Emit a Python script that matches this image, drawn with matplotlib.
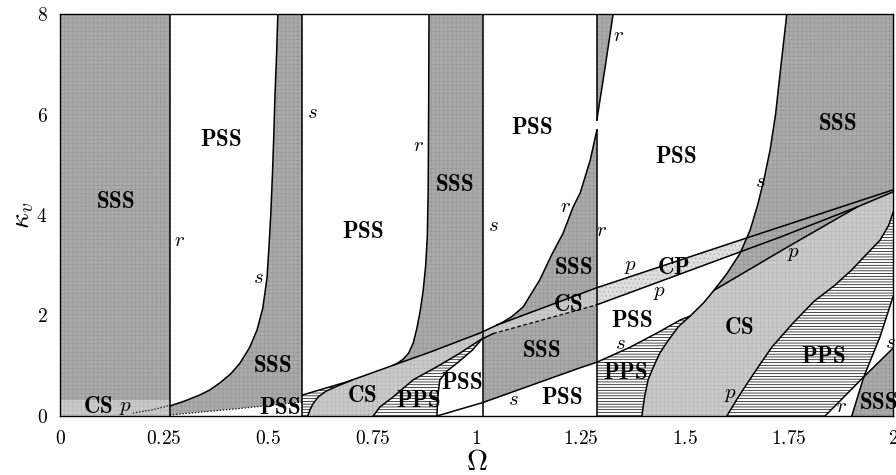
import numpy as np
import matplotlib.pyplot as plt
from matplotlib.patches import Polygon, Rectangle

plt.rcParams['mathtext.fontset'] = 'cm'
plt.rcParams['font.family'] = ['DejaVu Serif']
plt.rcParams['hatch.linewidth'] = 0.5

# boundary curves (Omega, kappa_v)
B_x = [0.264, 0.30, 0.336, 0.36, 0.384, 0.41, 0.432, 0.455, 0.473, 0.487, 0.497,
       0.502, 0.506, 0.510, 0.513, 0.516, 0.520, 0.523]
B_y = [0.20, 0.30, 0.42, 0.52, 0.66, 0.84, 1.05, 1.36, 1.71, 2.15, 2.75,
       3.4, 4.0, 4.8, 5.5, 6.35, 7.2, 8.0]
D1_x = [0.264, 0.42, 0.584]
D1_y = [0.02, 0.14, 0.28]
P0_x = [0.175, 0.22, 0.264]
P0_y = [0.06, 0.12, 0.21]
D_x = [0.886, 0.885, 0.884, 0.882, 0.878, 0.872, 0.865, 0.857, 0.848, 0.837, 0.824, 0.81, 0.80]
D_y = [8.0, 6.0, 4.5, 3.6, 3.0, 2.5, 2.1, 1.75, 1.45, 1.25, 1.13, 1.05, 1.01]
L1_x = [0.583, 0.689, 0.80, 0.888, 1.008, 1.049, 1.288, 1.633, 2.0]
L1_y = [0.42, 0.68, 1.01, 1.27, 1.65, 1.81, 2.55, 3.50, 4.5]
J_x = [0.595, 0.60, 0.608, 0.62, 0.64, 0.67, 0.70]
J_y = [0.0, 0.12, 0.25, 0.38, 0.50, 0.61, 0.71]
K_x = [0.752, 0.768, 0.80, 0.848, 0.905, 0.96, 1.008, 1.04]
K_y = [0.0, 0.18, 0.38, 0.72, 0.98, 1.25, 1.51, 1.64]
L2_x = [1.04, 1.288, 1.729, 1.914, 2.0]
L2_y = [1.64, 2.21, 3.56, 4.16, 4.46]
M_x = [0.905, 0.906, 0.908, 0.912, 0.93, 0.953, 0.99, 1.016]
M_y = [0.0, 0.2, 0.45, 0.72, 0.9, 1.05, 1.31, 1.56]
S2_x = [0.905, 1.016, 1.249, 1.289, 1.369, 1.433, 1.489, 1.513]
S2_y = [0.0, 0.27, 0.96, 1.07, 1.37, 1.65, 1.91, 1.99]
F_x = [1.289, 1.273, 1.249, 1.232, 1.208, 1.18, 1.152, 1.112, 1.085, 1.064, 1.049]
F_y = [5.69, 5.09, 4.44, 4.16, 3.64, 3.2, 2.71, 2.17, 1.98, 1.87, 1.81]
F2_x = [1.289, 1.309, 1.328]
F2_y = [5.89, 6.95, 8.0]
G_x = [1.397, 1.404, 1.412, 1.425, 1.44, 1.46, 1.485, 1.513, 1.545, 1.57,
       1.60, 1.633, 1.657, 1.675, 1.69, 1.705, 1.718, 1.73, 1.745]
G_y = [0.0, 0.4, 0.72, 0.98, 1.25, 1.5, 1.78, 1.99, 2.25, 2.5,
       2.82, 3.24, 3.7, 4.2, 4.7, 5.3, 6.0, 6.9, 8.0]
L3_x = [1.57, 1.74, 1.914]
L3_y = [2.5, 3.33, 4.16]
H_x = [1.601, 1.625, 1.65, 1.68, 1.71, 1.76, 1.81, 1.86, 1.90, 1.94, 1.969, 1.99, 2.0]
H_y = [0.0, 0.33, 0.65, 1.02, 1.38, 1.85, 2.28, 2.6, 2.9, 3.25, 3.5, 3.8, 4.05]
R_x = [1.837, 1.93, 2.0]
R_y = [0.0, 0.78, 1.35]
S3_x = [1.901, 1.93, 1.969, 2.0]
S3_y = [0.0, 0.78, 1.58, 2.37]
V_r1, V_s1, V_s2, V_r2 = 0.264, 0.581, 1.016, 1.289

labels = [
    ('SSS', 0.134, 4.26), ('PSS', 0.387, 5.49), ('SSS', 0.511, 1.0),
    ('CS', 0.09, 0.18), ('PSS', 0.528, 0.16), ('PSS', 0.727, 3.66),
    ('SSS', 0.948, 4.6), ('PSS', 1.134, 5.73), ('SSS', 1.232, 2.95),
    ('CS', 1.22, 2.21), ('SSS', 1.155, 1.29), ('PSS', 1.205, 0.36),
    ('PSS', 0.965, 0.66), ('PPS', 0.86, 0.30), ('CS', 0.725, 0.40),
    ('PSS', 1.479, 5.16), ('SSS', 1.866, 5.81), ('CP', 1.472, 2.95),
    ('PSS', 1.373, 1.89), ('PPS', 1.357, 0.86), ('CS', 1.63, 1.75),
    ('PPS', 1.832, 1.17), ('SSS', 1.965, 0.26),
]
marks = [
    ('s', 0.476, 2.75), ('r', 0.288, 3.5), ('p', 0.158, 0.16),
    ('s', 0.605, 6.03), ('r', 0.860, 5.39), ('s', 1.040, 3.80),
    ('r', 1.213, 4.16), ('s', 1.088, 0.32), ('r', 1.34, 7.58),
    ('s', 1.681, 4.66), ('r', 1.30, 3.70), ('p', 1.369, 2.97),
    ('p', 1.44, 2.45), ('s', 1.345, 1.45), ('p', 1.76, 3.24),
    ('p', 1.609, 0.42), ('s', 1.993, 1.47), ('r', 1.877, 0.18),
]

SSS_C, CS_C, CP_C = '#ababab', '#cbcbcb', '#dedede'

fig = plt.figure(figsize=(8.96, 4.75), dpi=100)
ax = fig.add_axes([60/896, 1-416/475, 833/896, 402/475])
ax.set_xlim(0, 2)
ax.set_ylim(0, 8)


def pts(xs, ys):
    return list(zip(xs, ys))


def region(verts, face, hatch=None, hc='#989898', z=1, clip=None):
    p = Polygon(verts, closed=True, facecolor=face, edgecolor=hc,
                hatch=hatch, lw=0, zorder=z)
    ax.add_patch(p)
    if clip is not None:
        p.set_clip_path(clip)
    return p


# SSS regions
region([(0, 0), (V_r1, 0), (V_r1, 8), (0, 8)], SSS_C, '++++')
region(pts(B_x, B_y) + [(V_s1, 8), (V_s1, 0.28)] + pts(D1_x, D1_y)[::-1], SSS_C, '++++')
region(pts(D_x, D_y) + [p for p in pts(L1_x, L1_y) if 0.80 < p[0] < V_s2] + [(V_s2, 1.68), (V_s2, 8)],
       SSS_C, '++++')
region([(V_s2, 0.27)] + [p for p in pts(S2_x, S2_y) if V_s2 < p[0] <= V_r2] + pts(F_x, F_y)
       + [(V_s2, 1.68)], SSS_C, '++++')
region(pts(F2_x, F2_y) + [(V_r2, 8)], SSS_C, '++++')
region(pts(G_x, G_y) + [(2, 8), (2, 0)], SSS_C, '++++')

# CS band along the bottom-left
region([(0, 0), (V_r1, 0), (V_r1, 0.32), (0, 0.32)], CS_C, '++++', hc='#b8b8b8', z=2)

# CS / CP band
band = pts(J_x, J_y)[:1] + pts(K_x, K_y) + pts(L2_x, L2_y)[1:] \
    + [p for p in pts(L1_x, L1_y) if p[0] >= 0.80][::-1] + pts(J_x, J_y)[::-1]
clip_cs = Rectangle((0, 0), V_r2, 8, transform=ax.transData)
left_g = Polygon([(V_r2, 0)] + pts(G_x, G_y) + [(V_r2, 8)], transform=ax.transData)
region(band, CS_C, '++++', hc='#b8b8b8', z=2, clip=clip_cs)
region(band, CP_C, '....', hc='#b0b0b0', z=2, clip=left_g)

# big CS region
g_low = [p for p in pts(G_x, G_y) if p[1] <= 2.5]
cs_big = g_low + pts(L3_x, L3_y)[1:] + [(2.0, 4.46), (2.0, 4.05)] + pts(H_x, H_y)[:-1][::-1]
region(cs_big, CS_C, '++++', hc='#b8b8b8', z=3)

# PPS regions (horizontal lines)
region(pts(H_x, H_y) + pts(S3_x, S3_y)[1:][::-1] + [(R_x[0], 0)], 'white', '------', hc='black', z=4)
region([(V_r2, 0)] + [p for p in pts(S2_x, S2_y) if p[0] >= V_r2]
       + [p for p in pts(G_x, G_y) if p[1] < 1.99][::-1], 'white', '------', hc='black', z=4)
region(pts(K_x, K_y)[:-1] + pts(M_x, M_y)[::-1], 'white', '------', hc='black', z=4)
region([(V_s1, 0), (V_s1, 0.42), (0.689, 0.68)] + pts(J_x, J_y)[::-1], 'white', '------', hc='black', z=4)

# white PSS pieces at the lower right
region([(R_x[0], 0), (R_x[1], R_y[1]), (S3_x[0], 0)], 'white', z=5)
region([(S3_x[1], S3_y[1]), (S3_x[2], S3_y[2]), (2.0, 2.37), (2.0, 1.35)], 'white', z=5)

# boundary lines
kw = dict(color='black', lw=1.1, zorder=6)
for xs, ys in [(B_x, B_y), (D_x, D_y), (F_x, F_y), (F2_x, F2_y), (G_x, G_y),
               (L1_x, L1_y), (J_x, J_y), (K_x, K_y), (M_x, M_y), (S2_x, S2_y),
               (L3_x, L3_y), (H_x, H_y), (R_x, R_y), (S3_x, S3_y)]:
    ax.plot(xs, ys, **kw)
ax.plot(L2_x[:2], L2_y[:2], color='black', lw=0.9, ls=(0, (3, 2)), zorder=6)
ax.plot(L2_x[1:], L2_y[1:], **kw)
ax.plot(D1_x, D1_y, color='black', lw=0.9, ls=(0, (1, 1.5)), zorder=6)
ax.plot(P0_x, P0_y, color='black', lw=0.9, ls=(0, (1, 1.5)), zorder=6)
for v in [V_r1, V_s1, V_s2]:
    ax.plot([v, v], [0, 8], **kw)
ax.plot([V_r2, V_r2], [0, 5.69], **kw)
ax.plot([V_r2, V_r2], [5.89, 8], **kw)

for t, x, y in labels:
    ax.text(x, y, r'$\mathbf{%s}$' % t, fontsize=16.5, ha='center', va='center', zorder=8)
for t, x, y in marks:
    ax.text(x, y, r'$%s$' % t, fontsize=15, ha='center', va='center', zorder=8)

xt = [0, 0.25, 0.5, 0.75, 1, 1.25, 1.5, 1.75, 2]
ax.set_xticks(xt)
ax.set_xticklabels([r'$%s$' % v for v in ['0', '0.25', '0.5', '0.75', '1', '1.25', '1.5', '1.75', '2']])
ax.set_yticks([0, 2, 4, 6, 8])
ax.set_yticklabels([r'$%d$' % v for v in [0, 2, 4, 6, 8]])
ax.tick_params(axis='both', length=0, labelsize=14)
ax.tick_params(axis='x', pad=10)
ax.tick_params(axis='y', pad=9)
ax.set_xlabel(r'$\Omega$', fontsize=21, va='center')
ax.xaxis.set_label_coords(0.5, -0.114)
ax.set_ylabel(r'$\kappa_v$', fontsize=20, va='center')
ax.yaxis.set_label_coords(-0.0456, 0.5)
for s in ax.spines.values():
    s.set_linewidth(1.0)
    s.set_zorder(9)

fig.savefig('out.png', dpi=100)
